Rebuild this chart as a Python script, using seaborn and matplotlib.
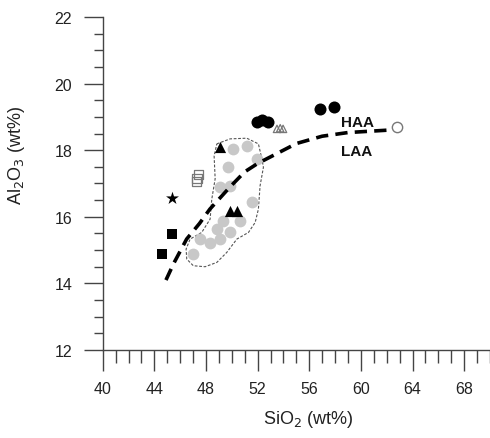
import matplotlib
matplotlib.use("Agg")
import matplotlib.pyplot as plt
import seaborn as sns
import numpy as np
from matplotlib.ticker import MultipleLocator
from matplotlib.patches import Polygon

# ---- data ----
gray_x = [50.12, 51.16, 51.94, 49.74, 49.09, 49.87, 51.55, 50.64, 49.35, 48.84, 49.87, 49.09, 48.32, 47.54, 47.02]
gray_y = [18.04, 18.14, 17.74, 17.49, 16.89, 16.93, 16.44, 15.88, 15.88, 15.63, 15.53, 15.33, 15.20, 15.33, 14.88]

black_circ_x = [51.93, 52.32, 52.84, 56.85, 57.95]
black_circ_y = [18.86, 18.92, 18.86, 19.24, 19.29]

black_sq_x = [45.37, 44.6]
black_sq_y = [15.48, 14.88]

star_x = [45.37]
star_y = [16.56]

open_sq_x = [47.40, 47.30, 47.25]
open_sq_y = [17.28, 17.15, 17.05]

black_tri_x = [49.10, 49.87, 50.43]
black_tri_y = [18.09, 16.18, 16.18]

open_tri_x = [53.50, 53.75, 53.97]
open_tri_y = [18.64, 18.66, 18.64]

open_circ_x = [62.8]
open_circ_y = [18.69]

curve_x = [44.9, 45.5, 46.5, 47.5, 48.3, 49.87, 51.0, 52.0, 53.5, 55.0, 57.0, 59.0, 62.0]
curve_y = [14.1, 14.6, 15.33, 15.8, 16.23, 16.9, 17.35, 17.6, 17.9, 18.2, 18.42, 18.53, 18.6]

field_x = [48.84, 49.87, 51.16, 52.06, 52.33, 52.45, 52.19, 52.06, 51.81, 51.29, 50.39, 49.61,
           48.84, 47.93, 47.02, 46.51, 46.46, 46.77, 47.67, 48.32, 48.45, 48.71, 48.63]
field_y = [18.19, 18.34, 18.36, 18.19, 17.74, 17.49, 16.93, 16.23, 15.83, 15.53, 15.33, 14.93,
           14.63, 14.50, 14.53, 14.73, 15.03, 15.33, 15.53, 15.93, 16.53, 17.14, 17.83]

labels = ["HAA", "LAA"]
label_x = [59.7, 59.7]
label_y = [18.84, 17.98]

# ---- figure ----
sns.set_style("white")
plt.rcParams['font.family'] = ['Liberation Sans', 'DejaVu Sans']

fig = plt.figure(figsize=(4.9, 4.39), dpi=100)
ax = fig.add_axes([0.2096, 0.2005, 0.7904, 0.7585])

# field outline
ax.add_patch(Polygon(np.column_stack([field_x, field_y]), closed=True, fill=False,
                     edgecolor='#555555', linewidth=0.8, linestyle=(0, (2.5, 1.5)), zorder=1))

sns.scatterplot(x=gray_x, y=gray_y, ax=ax, color='#c8c8c8', marker='o', s=72, linewidth=0, zorder=2)

sns.lineplot(x=curve_x, y=curve_y, ax=ax, sort=False, color='black', linewidth=2.6,
             linestyle=(0, (3.4, 2.0)), zorder=3)

sns.scatterplot(x=black_circ_x, y=black_circ_y, ax=ax, color='black', marker='o', s=75, linewidth=0, zorder=4)
sns.scatterplot(x=black_sq_x, y=black_sq_y, ax=ax, color='black', marker='s', s=58, linewidth=0, zorder=4)
sns.scatterplot(x=star_x, y=star_y, ax=ax, color='black', marker='*', s=95, linewidth=0, zorder=4)
sns.scatterplot(x=open_sq_x, y=open_sq_y, ax=ax, facecolor='none', edgecolor='#777777', marker='s',
                s=45, linewidth=0.9, zorder=4)
sns.scatterplot(x=black_tri_x, y=black_tri_y, ax=ax, color='black', marker='^', s=65, linewidth=0, zorder=4)
sns.scatterplot(x=open_tri_x, y=open_tri_y, ax=ax, facecolor='none', edgecolor='#777777', marker='^',
                s=28, linewidth=0.9, zorder=4)
sns.scatterplot(x=open_circ_x, y=open_circ_y, ax=ax, facecolor='white', edgecolor='#777777', marker='o',
                s=55, linewidth=1.0, zorder=4)

for t, tx, ty in zip(labels, label_x, label_y):
    ax.text(tx, ty, t, ha='center', va='center', fontsize=11, fontweight='bold', color='#111111')

ax.set_xlim(40, 70)
ax.set_ylim(12, 22)
ax.xaxis.set_major_locator(MultipleLocator(4))
ax.xaxis.set_minor_locator(MultipleLocator(1))
ax.yaxis.set_major_locator(MultipleLocator(2))
ax.yaxis.set_minor_locator(MultipleLocator(0.5))
ax.set_xticks(np.arange(40, 69, 4))

for s in ['top', 'right']:
    ax.spines[s].set_visible(False)
for s in ['left', 'bottom']:
    ax.spines[s].set_color('#444444')
    ax.spines[s].set_linewidth(1.0)

ax.tick_params(axis='x', which='major', direction='out', length=15, width=1.0, color='#444444',
               labelsize=11.5, pad=7, labelcolor='#222222')
ax.tick_params(axis='x', which='minor', direction='out', length=9, width=1.0, color='#444444')
ax.tick_params(axis='y', which='major', direction='out', length=14, width=1.0, color='#444444',
               labelsize=11.5, pad=8, labelcolor='#222222')
ax.tick_params(axis='y', which='minor', direction='out', length=6.5, width=1.0, color='#444444')
ax.tick_params(bottom=True, left=True, which='both')

ax.set_xlabel('SiO$_2$ (wt%)', fontsize=13, color='#222222', va='center')
ax.set_ylabel('Al$_2$O$_3$ (wt%)', fontsize=13, color='#222222', va='center')
ax.xaxis.set_label_coords((308 - 103) / 387, -(420 - 351) / 333)
ax.yaxis.set_label_coords((17 - 103) / 387, (351 - 155) / 333)
ax.patch.set_alpha(0)

fig.savefig('out.png', dpi=100)
